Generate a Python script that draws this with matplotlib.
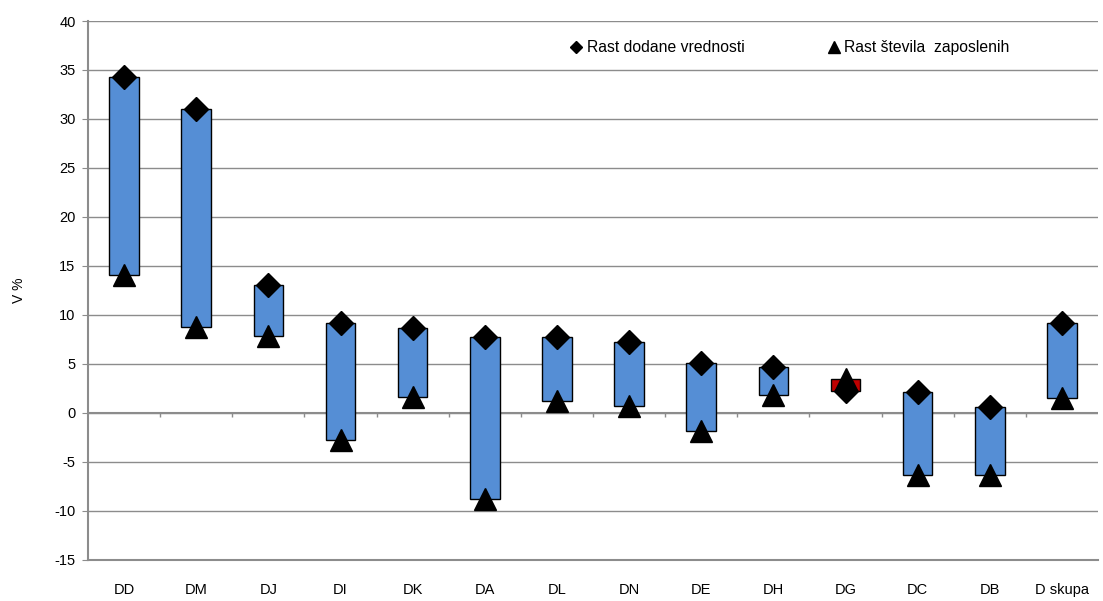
import numpy as np
import matplotlib
matplotlib.use("Agg")
import matplotlib.pyplot as plt
from matplotlib.lines import Line2D

plt.rcParams['font.family'] = ['Liberation Sans', 'DejaVu Sans']
plt.rcParams['axes.unicode_minus'] = False

categories = ["DD", "DM", "DJ", "DI", "DK", "DA", "DL", "DN", "DE", "DH", "DG", "DC", "DB", "D skupa"]
value_added = [34.3, 31.0, 13.0, 9.2, 8.6, 7.7, 7.7, 7.2, 5.1, 4.7, 2.2, 2.1, 0.6, 9.2]
employment = [14.1, 8.7, 7.8, -2.8, 1.6, -8.8, 1.2, 0.7, -1.9, 1.8, 3.4, -6.4, -6.4, 1.5]

grid_color = "#8c8c8c"

fig = plt.figure(figsize=(11.03, 6.01), dpi=100)
ax = fig.add_axes([0.0798, 0.069, 0.9157, 0.896])

x = np.arange(len(categories))
va = np.array(value_added)
em = np.array(employment)
lo = np.minimum(va, em)
hi = np.maximum(va, em)
colors = ["#558ed5" if v >= e else "#c00000" for v, e in zip(va, em)]

ax.bar(x, hi - lo, bottom=lo, width=0.41, color=colors, edgecolor="black",
       linewidth=1.0, zorder=3)
ax.plot(x, va, linestyle="none", marker="D", ms=12.5, color="black", zorder=4)
ax.plot(x, em, linestyle="none", marker="^", ms=16.5, color="black", zorder=5)

ax.set_xlim(-0.5, len(categories) - 0.5)
ax.set_ylim(-15, 40)
ax.set_yticks(np.arange(-15, 41, 5))
ax.yaxis.grid(True, color=grid_color, linewidth=1.0, zorder=0)
ax.set_axisbelow(True)

# zero line with category boundary ticks
ax.axhline(0, color=grid_color, linewidth=1.5, zorder=2)
ax.vlines(x[:-1] + 0.5, -0.45, 0, color=grid_color, linewidth=1.0, zorder=2)

for s in ["top", "right"]:
    ax.spines[s].set_visible(False)
for s in ["left", "bottom"]:
    ax.spines[s].set_color(grid_color)
    ax.spines[s].set_linewidth(1.5)

ax.set_xticks(x)
ax.set_xticklabels(categories)
ax.tick_params(axis="x", length=0, pad=17, labelsize=10.5)
ax.tick_params(axis="y", length=4, color=grid_color, labelsize=10.5, pad=5)
ax.set_ylabel("V %", fontsize=10, labelpad=20)

handles = [
    Line2D([], [], linestyle="none", marker="D", ms=6.5, color="black"),
    Line2D([], [], linestyle="none", marker="^", ms=9, color="black"),
]
ax.legend(handles, ["Rast dodane vrednosti", "Rast števila  zaposlenih"],
          ncol=2, frameon=False, fontsize=11.3, loc="center",
          bbox_to_anchor=(0.694, 0.95), handletextpad=0.15,
          columnspacing=5.2, handlelength=1.0)

fig.savefig("out.png", dpi=100)
